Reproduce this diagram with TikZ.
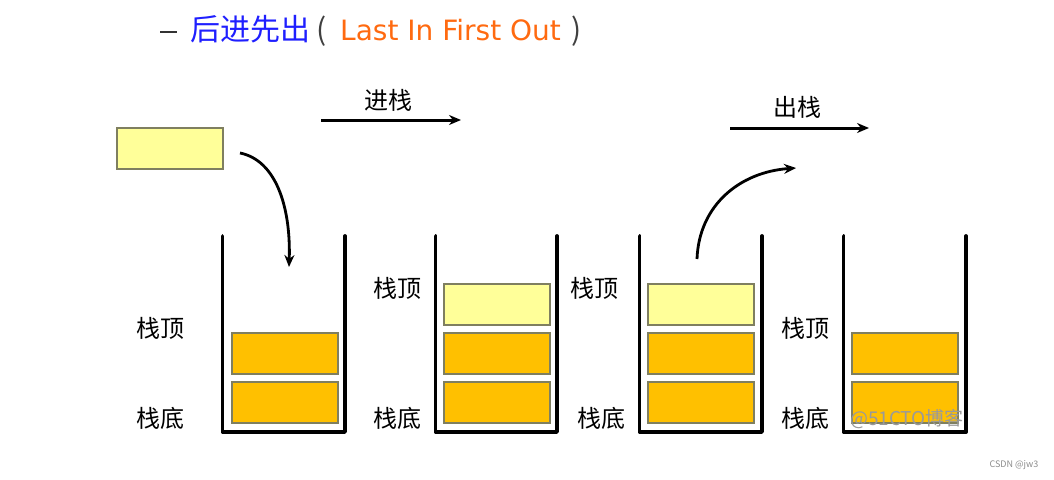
\documentclass[tikz,border=0pt]{standalone}
\usepackage{fontspec}
\setmainfont{Noto Sans CJK SC}
\newfontfamily\cjk{Noto Sans CJK SC}
\newfontfamily\latinf{DejaVu Sans}
\usetikzlibrary{arrows.meta}
\definecolor{boxorange}{HTML}{FFC000}
\definecolor{boxyellow}{HTML}{FFFF99}
\definecolor{boxedge}{HTML}{7F7F60}
\definecolor{titleblue}{HTML}{1F1FFF}
\definecolor{titleorange}{HTML}{FF6A10}
\definecolor{wmgray}{HTML}{9A9A9A}
\tikzset{
  cell/.style={draw=boxedge, line width=1.3pt, rectangle, inner sep=0pt, minimum width=106pt, minimum height=41pt},
  full/.style={cell, fill=boxorange},
  newc/.style={cell, fill=boxyellow},
  wall/.style={line width=3.8pt, line join=round, line cap=round},
  lab/.style={font=\fontsize{24}{28}\selectfont\cjk, inner sep=0pt},
  ttl/.style={font=\fontsize{30}{34}\selectfont, inner sep=0pt, anchor=base west},
  arr/.style={line width=3pt, -{Stealth[length=12pt,width=10pt]}},
  curv/.style={line width=2.8pt, -{Stealth[length=12pt,width=10pt]}}
}
\begin{document}
\begin{tikzpicture}[x=1pt,y=-1pt]
\useasboundingbox (0,0) rectangle (1054,479);
\fill[white] (0,0) rectangle (1054,479);
% title
\draw[line width=2.4pt, black!80] (160,32) -- (177,32);
\node[ttl, text=titleblue] (tcn) at (190,40) {后进先出};
\node[ttl, text=black!75] (tlp) at (316,40) {(};
\node[ttl, text=titleorange, font=\fontsize{28}{32}\selectfont\latinf] (ten) at (340,40) {Last In First Out};
\node[ttl, text=black!75] (trp) at (571,40) {)};
% top arrows
\coordinate (p1s) at (321,120); \coordinate (p1e) at (461,120);
\draw[arr] (p1s) -- (p1e);
\node[lab] (push) at (388,100) {进栈};
\coordinate (p2s) at (730,128); \coordinate (p2e) at (869,128);
\draw[arr] (p2s) -- (p2e);
\node[lab] (pop) at (797,107) {出栈};
% loose element
\node[newc] (loose) at (170,148.5) {};
% containers
\draw[wall] (222.5,236) -- (222.5,432) -- (345,432) -- (345,236);
\draw[wall] (435.5,236) -- (435.5,432) -- (557,432) -- (557,236);
\draw[wall] (639.5,236) -- (639.5,432) -- (762,432) -- (762,236);
\draw[wall] (843.5,236) -- (843.5,432) -- (966,432) -- (966,236);
% stack 1
\node[full] (a1) at (285,402.5) {};
\node[full] (a2) at (285,353.5) {};
% stack 2
\node[full] (b1) at (497,402.5) {};
\node[full] (b2) at (497,353.5) {};
\node[newc] (b3) at (497,304.5) {};
% stack 3
\node[full] (c1) at (701,402.5) {};
\node[full] (c2) at (701,353.5) {};
\node[newc] (c3) at (701,304.5) {};
% stack 4
\node[full] (d1) at (905,402.5) {};
\node[full] (d2) at (905,353.5) {};
% labels
\node[lab] (t1) at (160,328) {栈顶};
\node[lab] (s1) at (160,418) {栈底};
\node[lab] (t2) at (397,288) {栈顶};
\node[lab] (s2) at (397,418) {栈底};
\node[lab] (t3) at (594,288) {栈顶};
\node[lab] (s3) at (601,418) {栈底};
\node[lab] (t4) at (805,328) {栈顶};
\node[lab] (s4) at (805,418) {栈底};
% curved arrows
\coordinate (in0) at (240,153);
\coordinate (in1) at (289,267);
\draw[curv] (in0) .. controls (275,160) and (291,205) .. (in1);
\coordinate (out0) at (697,259);
\coordinate (out1) at (796,168);
\draw[curv] (out0) .. controls (699,205) and (740,172) .. (out1);
% watermarks
\node[font=\fontsize{19}{22}\selectfont, text=wmgray, inner sep=0pt] (wm) at (907,419) {@51CTO博客};
\node[font=\fontsize{9}{11}\selectfont, text=black!45, inner sep=0pt] (csdn) at (1014,465) {CSDN @jw3};
\end{tikzpicture}
\end{document}
